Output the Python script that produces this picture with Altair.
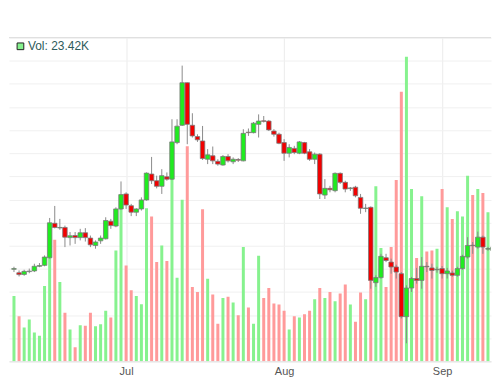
import altair as alt
import pandas as pd

start = "2023-06-09"

open_ = [3.98, 3.83, 3.76, 3.88, 3.91, 4.11, 4.15, 4.48, 5.97, 5.77,
         5.79, 5.35, 5.44, 5.35, 5.56, 5.33, 5.01, 5.21, 5.30, 6.06,
         5.85, 6.59, 7.24, 6.73, 6.45, 6.59, 6.98, 8.10, 7.81, 7.57,
         7.98, 7.88, 9.46, 10.21, 12.05, 10.21, 9.72, 9.53, 8.74, 8.89,
         8.65, 8.49, 8.86, 8.63, 8.73, 8.67, 9.91, 9.89, 10.25, 10.40,
         10.39, 9.96, 9.82, 9.46, 9.00, 9.21, 9.00, 9.46, 9.06, 8.74,
         8.96, 7.19, 7.48, 7.38, 8.13, 7.74, 7.47, 7.53, 7.09, 6.61,
         6.66, 3.40, 3.62, 4.48, 4.29, 4.08, 3.79, 1.93, 3.17, 3.58,
         3.50, 4.11, 4.04, 3.96, 4.01, 3.79, 3.82, 3.72, 4.01, 4.51,
         5.02, 4.94, 5.37, 4.85, 4.79]
high = [4.09, 3.93, 3.96, 4.01, 4.22, 4.25, 4.58, 6.20, 6.72, 6.16,
        5.87, 5.59, 5.59, 5.73, 5.76, 5.44, 5.23, 5.44, 6.23, 6.16,
        6.66, 7.78, 7.31, 6.81, 6.62, 7.09, 8.17, 8.84, 8.03, 8.31,
        8.17, 10.47, 10.47, 12.79, 12.06, 10.73, 9.82, 10.18, 9.18, 9.29,
        8.74, 8.92, 8.96, 8.82, 8.79, 10.04, 10.07, 10.35, 10.68, 10.61,
        10.44, 10.04, 9.89, 9.61, 9.39, 9.32, 9.53, 9.49, 9.18, 9.03,
        9.00, 7.88, 7.59, 8.17, 8.17, 7.81, 7.54, 7.59, 7.24, 6.81,
        6.70, 3.72, 4.65, 4.65, 4.44, 4.18, 3.86, 3.29, 3.65, 4.04,
        4.51, 4.29, 4.22, 4.09, 4.12, 4.04, 3.92, 4.09, 4.61, 5.37,
        5.16, 5.61, 5.44, 4.95, 5.01]
low = [3.86, 3.67, 3.70, 3.81, 3.86, 4.07, 4.11, 4.44, 5.75, 5.69,
       4.94, 5.01, 5.08, 5.23, 5.18, 4.94, 4.87, 5.08, 5.27, 5.73,
       5.80, 6.56, 6.59, 6.28, 6.28, 6.52, 6.95, 7.67, 7.48, 7.24,
       7.81, 7.84, 9.39, 10.18, 9.39, 9.68, 9.49, 8.71, 8.53, 8.53,
       8.46, 8.46, 8.60, 8.53, 8.62, 8.65, 9.75, 9.86, 9.68, 10.33,
       9.96, 9.72, 9.39, 8.67, 8.82, 8.96, 8.96, 8.96, 8.67, 8.53,
       7.02, 7.02, 7.31, 7.31, 7.67, 7.31, 7.37, 7.09, 6.38, 6.45,
       3.14, 3.22, 3.58, 4.29, 3.79, 3.58, 1.85, 0.78, 3.00, 3.36,
       3.14, 3.86, 3.58, 3.83, 3.58, 3.58, 3.66, 3.66, 3.96, 4.44,
       4.65, 4.87, 4.65, 4.78, 4.73]
close = [4.01, 3.75, 3.89, 3.90, 4.11, 4.14, 4.51, 5.99, 5.79, 5.79,
         5.37, 5.43, 5.35, 5.56, 5.35, 5.04, 5.16, 5.33, 6.09, 5.87,
         6.59, 7.21, 6.76, 6.45, 6.59, 6.98, 8.14, 7.81, 7.57, 8.03,
         7.88, 9.49, 10.17, 12.05, 10.25, 9.75, 9.58, 8.77, 8.93, 8.67,
         8.53, 8.86, 8.67, 8.74, 8.70, 9.86, 9.89, 10.30, 10.39, 10.38,
         10.01, 9.82, 9.43, 9.00, 9.25, 9.03, 9.49, 9.00, 8.74, 8.96,
         7.24, 7.48, 7.42, 8.13, 7.74, 7.45, 7.50, 7.16, 6.62, 6.63,
         3.50, 3.62, 4.54, 4.36, 4.08, 3.86, 1.93, 3.17, 3.58, 3.50,
         4.11, 4.09, 3.93, 3.98, 3.79, 3.91, 3.72, 4.01, 4.54, 5.01,
         5.00, 5.37, 4.94, 4.88, 4.94]
volume = [15.43, 10.64, 7.99, 9.87, 6.81, 6.04, 17.78, 28.89, 28.66, 18.72,
          11.44, 7.52, 3.29, 8.53, 8.39, 11.44, 8.29, 8.76, 11.91, 10.34,
          26.14, 36.10, 22.62, 16.75, 15.43, 13.46, 36.10, 34.13, 23.42, 27.32,
          23.65, 43.46, 19.73, 38.12, 50.74, 17.55, 16.37, 35.87, 19.50, 15.74,
          8.86, 14.96, 15.20, 13.86, 10.88, 26.94, 12.68, 8.86, 24.90, 14.96,
          17.31, 13.62, 13.39, 11.91, 7.52, 10.64, 10.34, 11.11, 11.91, 14.63,
          17.31, 14.96, 16.37, 14.16, 15.97, 18.09, 13.39, 9.33, 16.21, 14.63,
          28.89, 41.27, 26.71, 17.55, 26.94, 42.75, 63.59, 71.81, 40.64, 24.36,
          38.92, 25.91, 26.14, 26.54, 40.64, 36.34, 33.59, 35.40, 34.13, 43.76,
          39.23, 40.64, 39.70, 35.16, 23.42]

dates = pd.date_range(start, periods=len(open_), freq="D")
df = pd.DataFrame({"date": dates, "open": open_, "high": high, "low": low,
                   "close": close, "volume": volume})
df["dir"] = ["up" if c >= o else "down" for o, c in zip(open_, close)]

x = alt.X(
    "date:T",
    scale=alt.Scale(domain=[alt.DateTime(year=2023, month=6, date=9),
                            alt.DateTime(year=2023, month=9, date=9, hours=14, minutes=48)],
                    nice=False),
    axis=alt.Axis(values=[alt.DateTime(year=2023, month=m, date=1) for m in (7, 8, 9)],
                  format="%b", title=None, grid=True, gridColor="#ebebeb",
                  domainColor="#e0e0e0", ticks=False, labelFontSize=11,
                  labelColor="#555555", labelFont="Liberation Sans", labelPadding=4),
)

vol_colors = alt.Scale(domain=["up", "down"], range=["#86f28e", "#ff9a9a"])
candle_colors = alt.Scale(domain=["up", "down"], range=["#1fec1f", "#f20000"])

vol = alt.Chart(df).mark_bar(size=3, clip=True).encode(
    x=x,
    y=alt.Y("volume:Q", scale=alt.Scale(domain=[0, 76.34], nice=False), axis=None),
    color=alt.Color("dir:N", scale=vol_colors, legend=None),
)

wick = alt.Chart(df).mark_rule(color="#8a8a8a", strokeWidth=1, clip=True).encode(
    x=x,
    y=alt.Y("low:Q", scale=alt.Scale(domain=[0, 14], nice=False),
            axis=alt.Axis(values=list(range(0, 15)), grid=True, gridColor="#f0f0f0",
                          labels=False, ticks=False, domain=False, title=None)),
    y2="high:Q",
)

body = alt.Chart(df).mark_bar(size=4.5, stroke="#7a7a7a", strokeWidth=0.8, clip=True).encode(
    x=x,
    y=alt.Y("open:Q", scale=alt.Scale(domain=[0, 14], nice=False), axis=None),
    y2="close:Q",
    color=alt.Color("dir:N", scale=candle_colors, legend=None),
)

top_line = alt.Chart(pd.DataFrame({"a": [0]})).mark_rule(color="#dcdcdc").encode(
    y=alt.value(0)
)

leg_sq = alt.Chart(pd.DataFrame({"a": [0]})).mark_square(
    size=45, color="#86f28e", stroke="#222222", strokeWidth=1, opacity=1, filled=True
).encode(x=alt.value(11.5), y=alt.value(8.7))

leg_tx = alt.Chart(pd.DataFrame({"t": [f"Vol: {volume[-1]:.2f}K"]})).mark_text(
    align="left", baseline="middle", fontSize=12, font="Liberation Sans", color="#2e5b5b"
).encode(x=alt.value(19), y=alt.value(8.7), text="t:N")

chart = alt.layer(vol, wick, body, top_line, leg_sq, leg_tx).resolve_scale(
    y="independent", color="independent"
).properties(
    width=484, height=325,
    padding={"left": 0, "right": 0, "top": 28, "bottom": 0},
).configure_view(stroke=None)

chart.save("out.html", embed_options={"renderer": "svg", "actions": False})
